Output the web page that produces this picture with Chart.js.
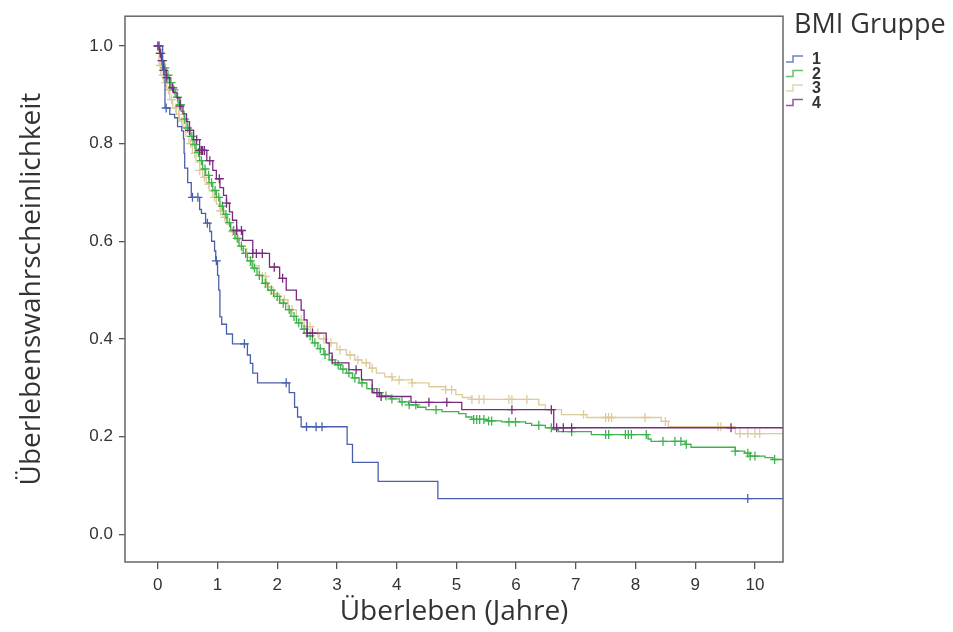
<!DOCTYPE html>
<html>
<head>
<meta charset="utf-8">
<script src="https://cdn.jsdelivr.net/npm/chart.js@4"></script>
<style>
  html, body { margin: 0; padding: 0; background: #fff; }
  #wrap { width: 953px; height: 632px; position: relative; }
</style>
</head>
<body>
<div id="wrap"><canvas id="kmChart"></canvas></div>
<script>
// ---------------- data ----------------
const groupNames = ['1', '2', '3', '4'];
const groupColors = ['#4a60ad', '#3cb44b', '#ddcb9b', '#7a2a80'];

const xTicks = [0, 1, 2, 3, 4, 5, 6, 7, 8, 9, 10];
const yTicks = [0.0, 0.2, 0.4, 0.6, 0.8, 1.0];

// group 1
const timesG1 = [0, 0.08, 0.12, 0.2, 0.28, 0.33, 0.4, 0.43, 0.44, 0.45, 0.5, 0.56, 0.7, 0.73, 0.8, 0.87, 0.9, 0.95, 0.97,
  1.0, 1.02, 1.04, 1.07, 1.15, 1.25, 1.5, 1.55, 1.59, 1.67, 2.2, 2.29, 2.34, 2.4, 3.17, 3.26, 3.69, 4.69, 10.47];
const survG1 = [1.0, 0.95, 0.873, 0.86, 0.853, 0.835, 0.826, 0.81, 0.78, 0.75, 0.72, 0.69, 0.665, 0.657, 0.637, 0.62, 0.6, 0.58, 0.56,
  0.53, 0.5, 0.445, 0.43, 0.41, 0.39, 0.367, 0.35, 0.33, 0.31, 0.29, 0.26, 0.24, 0.22, 0.184, 0.147, 0.108, 0.073, 0.073];
const censG1 = [0.14, 0.58, 0.67, 0.83, 0.98, 1.45, 2.15, 2.49, 2.65, 2.75, 9.88];

// group 2
const timesG2 = [0, 0.03, 0.06, 0.1, 0.14, 0.19, 0.24, 0.29, 0.34, 0.39, 0.44, 0.49, 0.54, 0.59, 0.64, 0.7, 0.75, 0.8, 0.86, 0.92, 0.98,
  1.04, 1.1, 1.16, 1.22, 1.29, 1.36, 1.43, 1.5, 1.58, 1.66, 1.75, 1.84, 1.94, 2.04, 2.14, 2.23, 2.32, 2.41, 2.5, 2.59, 2.68, 2.78, 2.87, 2.97,
  3.06, 3.16, 3.26, 3.37, 3.5, 3.62, 3.75, 3.9, 4.05, 4.2, 4.35, 4.49, 4.76, 5.04, 5.16, 5.26, 5.5, 5.76, 6.16, 6.26, 6.49, 6.6, 6.71,
  7.26, 8.21, 8.26, 8.83, 8.93, 9.67, 9.83, 9.92, 10.17, 10.3, 10.47];
const survG2 = [1.0, 0.985, 0.97, 0.955, 0.94, 0.925, 0.91, 0.895, 0.88, 0.866, 0.85, 0.832, 0.815, 0.798, 0.782, 0.765, 0.748, 0.735, 0.72, 0.704, 0.69,
  0.672, 0.655, 0.638, 0.622, 0.606, 0.59, 0.575, 0.56, 0.545, 0.53, 0.514, 0.5, 0.487, 0.473, 0.46, 0.446, 0.433, 0.42, 0.406, 0.392, 0.38, 0.368, 0.357, 0.347,
  0.338, 0.33, 0.32, 0.31, 0.298, 0.29, 0.283, 0.277, 0.271, 0.265, 0.26, 0.255, 0.251, 0.247, 0.24, 0.235, 0.232, 0.23, 0.227, 0.223, 0.218, 0.214, 0.21,
  0.204, 0.195, 0.19, 0.184, 0.178, 0.17, 0.166, 0.16, 0.157, 0.153, 0.153];
const censG2 = [0.05, 0.08, 0.12, 0.17, 0.22, 0.27, 0.33, 0.38, 0.45, 0.5, 0.57, 0.62, 0.68, 0.73, 0.79, 0.85, 0.9, 0.96,
  1.02, 1.08, 1.14, 1.2, 1.27, 1.33, 1.4, 1.47, 1.55, 1.62, 1.7, 1.8, 1.9, 2.0, 2.1, 2.2, 2.28, 2.36, 2.45, 2.55, 2.63, 2.72, 2.8, 2.92,
  3.02, 3.1, 3.2, 3.3, 3.42, 3.59, 3.71, 3.82, 3.92, 4.09, 4.21, 4.32, 4.66, 5.29, 5.34, 5.39, 5.46, 5.54, 5.59, 5.88, 5.99, 6.38, 6.59,
  6.93, 7.5, 7.55, 7.83, 7.88, 7.93, 8.18, 8.46, 8.66, 8.76, 8.85, 9.67, 9.88, 9.92, 10.0, 10.33];

// group 3
const timesG3 = [0, 0.02, 0.05, 0.1, 0.15, 0.2, 0.25, 0.31, 0.36, 0.42, 0.47, 0.52, 0.58, 0.64, 0.7, 0.75, 0.81, 0.86, 0.92, 0.98,
  1.04, 1.09, 1.15, 1.22, 1.3, 1.4, 1.49, 1.58, 1.7, 1.82, 1.93, 2.04, 2.18, 2.32, 2.45, 2.59, 2.7, 2.82, 3.0, 3.16, 3.3, 3.42, 3.55, 3.66, 3.8, 3.93,
  4.26, 4.54, 4.82, 4.99, 5.1, 5.26, 6.38, 6.49, 6.76, 7.18, 8.43, 8.55, 9.67, 10.47];
const survG3 = [1.0, 0.96, 0.94, 0.925, 0.91, 0.89, 0.873, 0.86, 0.846, 0.833, 0.815, 0.8, 0.78, 0.762, 0.745, 0.731, 0.717, 0.703, 0.69, 0.676,
  0.662, 0.649, 0.635, 0.62, 0.604, 0.585, 0.567, 0.55, 0.528, 0.506, 0.492, 0.48, 0.46, 0.439, 0.425, 0.412, 0.4, 0.392, 0.378, 0.367, 0.357, 0.351, 0.34, 0.33, 0.322, 0.316,
  0.31, 0.302, 0.296, 0.286, 0.28, 0.276, 0.265, 0.255, 0.245, 0.239, 0.231, 0.22, 0.206, 0.206];
const censG3 = [0.04, 0.09, 0.13, 0.18, 0.23, 0.3, 0.35, 0.4, 0.46, 0.55, 0.62, 0.7, 0.78, 0.85, 0.95, 1.05, 1.12, 1.25, 1.35,
  1.6, 1.75, 1.8, 1.85, 1.95, 2.05, 2.12, 2.25, 2.4, 2.55, 2.68, 2.78, 2.9, 3.05, 3.22, 3.35, 3.49, 3.59, 3.92, 4.04, 4.26,
  4.82, 4.92, 5.26, 5.38, 5.46, 5.88, 5.93, 6.18, 7.13, 7.5, 7.55, 7.6, 8.16, 8.5, 9.38, 9.43, 9.75, 9.88, 10.0, 10.08];

// group 4
const timesG4 = [0, 0.03, 0.06, 0.1, 0.14, 0.2, 0.26, 0.32, 0.37, 0.42, 0.48, 0.53, 0.6, 0.7, 0.82, 0.92, 0.98,
  1.04, 1.1, 1.15, 1.2, 1.25, 1.32, 1.42, 1.59, 1.87, 2.04, 2.15, 2.32, 2.4, 2.45, 2.5, 2.82, 2.87, 2.92,
  3.2, 3.41, 3.59, 3.71, 4.24, 5.09, 6.63, 10.47];
const survG4 = [1.0, 0.985, 0.97, 0.95, 0.935, 0.914, 0.905, 0.894, 0.877, 0.861, 0.845, 0.827, 0.808, 0.786, 0.765, 0.745, 0.728,
  0.71, 0.694, 0.678, 0.66, 0.643, 0.622, 0.602, 0.575, 0.547, 0.524, 0.5, 0.48, 0.459, 0.439, 0.412, 0.392, 0.371, 0.351,
  0.337, 0.316, 0.29, 0.282, 0.27, 0.255, 0.218, 0.218];
const censG4 = [0.0, 0.02, 0.04, 0.07, 0.1, 0.15, 0.25, 0.37, 0.53, 0.65, 0.7, 0.73, 0.75, 0.78, 0.87, 1.03, 1.15, 1.32, 1.4,
  1.59, 1.65, 1.75, 1.95, 2.09, 2.5, 2.59, 3.32, 3.67, 3.74, 4.54, 4.84, 5.93, 6.59, 6.68, 6.79, 6.93, 9.6];

const groupTimes = [timesG1, timesG2, timesG3, timesG4];
const groupSurv = [survG1, survG2, survG3, survG4];
const groupCens = [censG1, censG2, censG3, censG4];

// survival value of a step curve at time t (for placing the censor marks)
function survAt(times, surv, t) {
  let s = surv[0];
  for (let i = 0; i < times.length; i++) {
    if (times[i] <= t) s = surv[i];
  }
  return s;
}

const drawOrder = [1, 3, 4, 2]; // blue on top, tan at the bottom

const datasets = [];
groupNames.forEach(function(name, g) {
  datasets.push({
    label: name,
    data: groupTimes[g].map(function(t, i) { return {x: t, y: groupSurv[g][i]}; }),
    borderColor: groupColors[g],
    borderWidth: 1.3,
    stepped: true,
    pointRadius: 0,
    fill: false,
    order: drawOrder[g]
  });
  datasets.push({
    label: name + ' zensiert',
    data: groupCens[g].map(function(t) { return {x: t, y: survAt(groupTimes[g], groupSurv[g], t)}; }),
    showLine: false,
    pointStyle: 'cross',
    pointRadius: 4.5,
    pointBorderWidth: 1.3,
    borderColor: groupColors[g],
    backgroundColor: groupColors[g],
    order: drawOrder[g]
  });
});

// frame round the plot area + legend on the right
const framePlugin = {
  id: 'frame',
  afterDraw(chart) {
    const {ctx, chartArea: a} = chart;
    ctx.save();
    ctx.strokeStyle = '#666';
    ctx.lineWidth = 1.5;
    ctx.strokeRect(a.left, a.top, a.right - a.left, a.bottom - a.top);

    // legend
    ctx.fillStyle = '#333';
    ctx.font = '27px "Open Sans"';
    ctx.textBaseline = 'middle';
    ctx.textAlign = 'left';
    ctx.fillText('BMI Gruppe', 794, 25);
    groupNames.forEach(function(name, g) {
      const y = 59 + g * 14.5;
      const x = a.right + 3;
      ctx.strokeStyle = groupColors[g];
      ctx.globalAlpha = 0.8;
      ctx.lineWidth = 1.5;
      ctx.beginPath();
      ctx.moveTo(x, y + 3);
      ctx.lineTo(x + 7, y + 3);
      ctx.lineTo(x + 7, y - 3);
      ctx.lineTo(x + 17, y - 3);
      ctx.stroke();
      ctx.globalAlpha = 1;
      ctx.fillStyle = '#333';
      ctx.font = 'bold 16px "Liberation Sans"';
      ctx.fillText(name, x + 26, y + 1);
    });
    ctx.restore();
  }
};

const tickFont = { family: '"Liberation Sans", Arial, sans-serif', size: 17 };
const titleFont = { family: '"Open Sans", sans-serif', size: 28 };

new Chart(document.getElementById('kmChart'), {
  type: 'line',
  data: { datasets: datasets },
  options: {
    responsive: true,
    maintainAspectRatio: false,
    animation: false,
    layout: { padding: { left: 8, right: 170, top: 15, bottom: 0 } },
    plugins: {
      legend: { display: false },
      tooltip: { enabled: false }
    },
    scales: {
      x: {
        type: 'linear',
        min: -0.55,
        max: 10.47,
        afterBuildTicks: function(scale) { scale.ticks = xTicks.map(function(v) { return {value: v}; }); },
        afterFit: function(scale) { scale.height = 70; },
        border: { display: false },
        grid: { drawOnChartArea: false, drawTicks: true, tickLength: 7, color: '#555', lineWidth: 1.3 },
        ticks: { color: '#333', font: tickFont, padding: 6, maxRotation: 0,
          callback: function(v) { return String(v); } },
        title: { display: true, text: 'Überleben (Jahre)', color: '#333', font: titleFont, padding: { top: 0, bottom: 3 } }
      },
      y: {
        type: 'linear',
        min: -0.057,
        max: 1.061,
        afterBuildTicks: function(scale) { scale.ticks = yTicks.map(function(v) { return {value: v}; }); },
        afterFit: function(scale) { scale.width = 117; },
        border: { display: false },
        grid: { drawOnChartArea: false, drawTicks: true, tickLength: 6, color: '#555', lineWidth: 1.3 },
        ticks: { color: '#333', font: tickFont, padding: 6,
          callback: function(v) { return Number(v).toFixed(1); } },
        title: { display: true, text: 'Überlebenswahrscheinlichkeit', color: '#333', font: titleFont, padding: { top: 7, bottom: 0 } }
      }
    }
  },
  plugins: [framePlugin]
});
</script>
</body>
</html>
